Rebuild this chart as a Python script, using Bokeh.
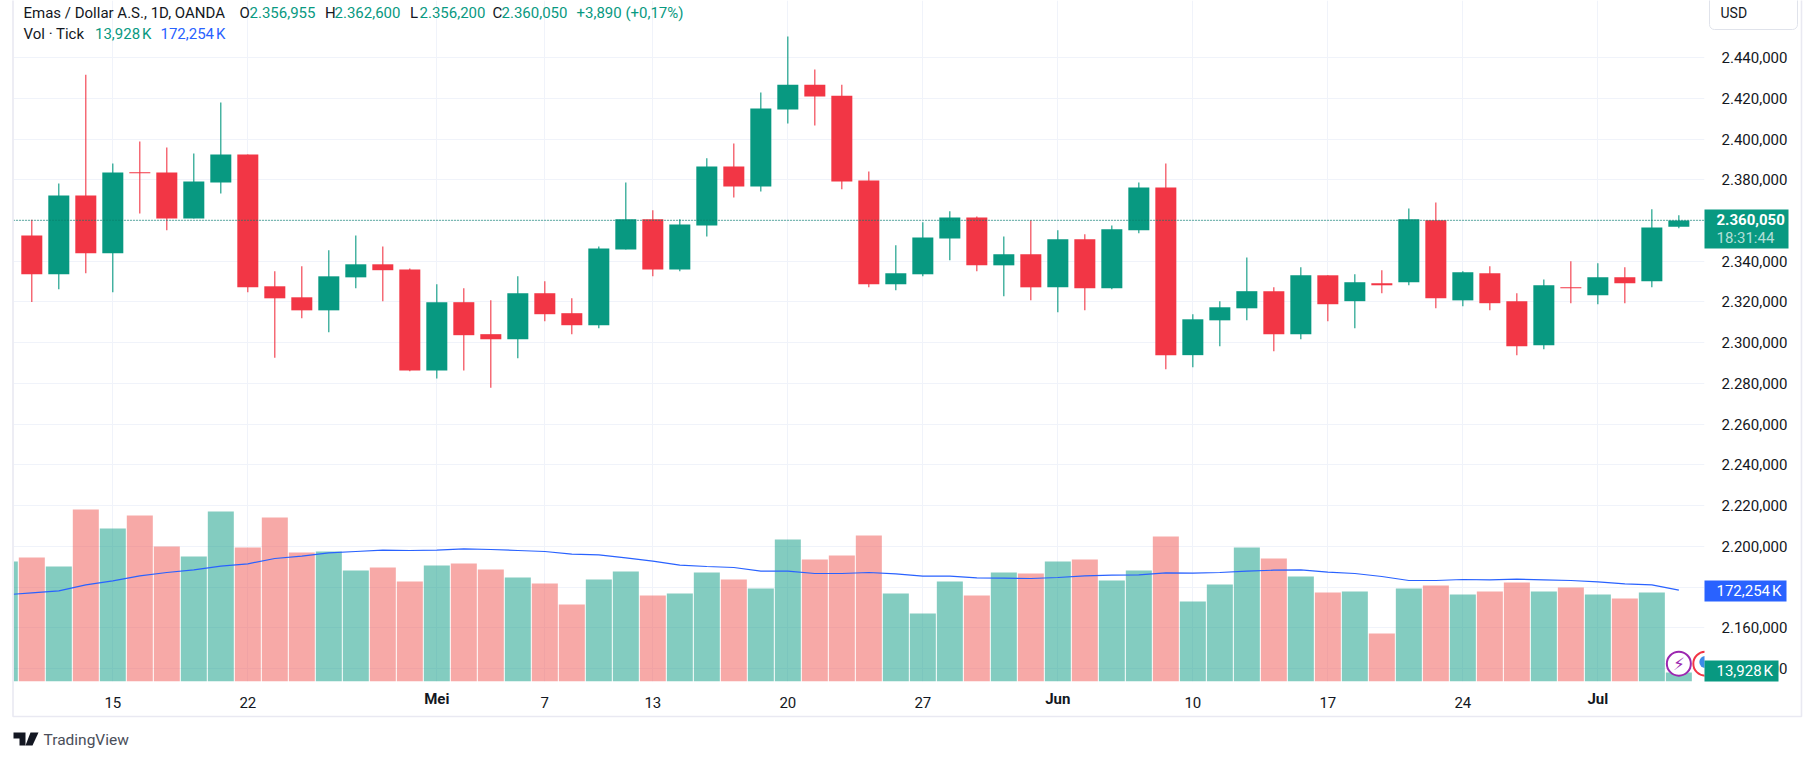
from bokeh.plotting import figure
from bokeh.embed import file_html
from bokeh.resources import INLINE
from bokeh.layouts import column
from bokeh.models import (Range1d, FixedTicker, Span, Label, BoxAnnotation,
                          PolyAnnotation, ColumnDataSource)
from bokeh.core.properties import value

# Prices in thousands (USD, as labelled on the axis)
open_ = [2352.7,2333.6,2372.3,2343.9,2383.7,2383.6,2361.0,2378.7,2392.4,2327.7,2322.3,2315.9,2332.1,2338.5,2336.0,2286.4,
         2319.9,2304.2,2301.7,2324.3,2314.5,2308.6,2345.8,2360.6,2336.0,2357.6,2386.5,2376.7,2414.5,2426.7,2421.3,2379.7,
         2328.7,2333.6,2351.2,2361.5,2338.0,2343.4,2327.2,2350.8,2326.7,2355.2,2376.2,2293.9,2311.0,2316.9,2325.3,2304.2,
         2333.1,2320.4,2329.2,2329.7,2360.1,2320.8,2334.1,2320.4,2298.8,2327.2,2323.3,2332.1,2330.2,2356.955]
high = [2360.4,2378.2,2431.6,2388.0,2398.8,2395.8,2392.9,2417.9,2392.4,2335.1,2337.5,2345.4,2352.7,2347.3,2336.5,2328.7,
        2326.7,2320.8,2332.6,2330.2,2321.8,2347.3,2378.7,2365.0,2360.6,2390.5,2397.8,2422.8,2450.3,2434.1,2426.7,2384.1,
        2347.8,2359.1,2364.5,2362.0,2352.2,2360.1,2355.2,2353.2,2357.6,2378.7,2388.0,2314.0,2320.4,2341.9,2327.2,2337.0,
        2333.1,2333.6,2335.6,2365.9,2368.9,2335.1,2337.5,2324.3,2331.1,2340.0,2339.0,2337.0,2365.5,2362.6]
low = [2320.0,2326.2,2334.1,2324.8,2363.5,2355.2,2361.0,2373.3,2324.8,2292.6,2312.0,2305.2,2326.7,2320.4,2286.0,2282.5,
       2286.4,2277.9,2292.4,2310.6,2304.2,2307.1,2345.8,2332.6,2335.1,2352.2,2371.3,2374.3,2407.6,2406.6,2375.3,2327.2,
       2325.8,2332.6,2340.5,2335.1,2322.8,2320.8,2315.0,2315.9,2326.2,2353.7,2287.0,2288.0,2298.3,2311.0,2295.8,2301.7,
       2310.6,2307.1,2324.3,2328.2,2316.9,2317.9,2315.9,2293.9,2296.8,2319.4,2318.9,2319.4,2327.2,2356.2]
close = [2333.6,2372.3,2343.9,2383.6,2383.2,2361.0,2379.2,2392.4,2327.2,2321.8,2315.9,2332.6,2338.5,2335.6,2286.4,2319.9,
         2303.7,2301.7,2324.3,2314.0,2308.6,2346.3,2360.6,2336.0,2358.1,2386.5,2376.7,2415.0,2426.7,2420.9,2379.2,2328.7,
         2334.1,2351.7,2361.5,2338.0,2343.4,2327.2,2350.8,2326.7,2355.7,2376.2,2293.9,2311.5,2317.4,2325.3,2304.2,2333.1,
         2318.9,2329.7,2328.2,2360.6,2321.8,2334.6,2319.4,2298.3,2328.2,2326.7,2332.1,2329.2,2356.6,2360.05]

# Tick volume in K; the first entry is the session cut off at the left edge
volume = [227494,235189,217873,327540,290984,315997,256353,237113,323692,254429,312148,244809,246733,210177,215949,189013,
          219797,223645,212101,196709,185165,144761,192861,208253,162077,165925,206329,192861,175545,269821,231341,239037,
          277517,165925,127445,189013,162077,206329,204405,227494,231341,190937,210177,275593,150533,183241,254429,233265,
          198633,167849,169773,88966,175545,181317,164001,169773,187089,169773,177469,164001,156305,167849,13928]
volume_ma = [163360,167208,171056,182600,190296,199916,206329,211460,218514,223003,233265,237754,244167,246733,249298,248657,
             249298,251863,250581,248657,246733,241602,240319,234547,228134,220438,217873,215949,208894,208894,204405,204405,
             206329,203764,199274,199274,196068,195426,194785,196709,199916,201198,201840,205688,205046,206329,208894,210818,
             211460,206970,204405,198633,190937,190937,192861,192220,193502,192220,190937,188372,184524,182600,172254]
prior_up = [True]

price_ticks = [2440,2420,2400,2380,2360,2340,2320,2300,2280,2260,2240,2220,2200,2180,2160,2140]
price_labels = ["2.440,000","2.420,000","2.400,000","2.380,000","","2.340,000","2.320,000","2.300,000","2.280,000",
                "2.260,000","2.240,000","2.220,000","2.200,000","","2.160,000","2.140,000"]
day_ticks = [3,8,15,19,23,28,33,38,43,48,53,58]
day_labels = ["15","22","","7","13","20","27","","10","17","24",""]
month_ticks = [15,38,58]
month_labels = ["Mei","Jun","Jul"]
last_price = 2360.05

GREEN, RED, RED_V, BLUE, INK, GRID, FRAME = "#089981","#F23645","#EF5350","#2962FF","#131722","#F0F3FA","#E9E9F2"
FONT = "Roboto"

idx = list(range(len(close)))
up = [c >= o for o, c in zip(open_, close)]
src = ColumnDataSource(dict(x=idx, o=open_, h=high, l=low, c=close,
                            top=[max(a, b) for a, b in zip(open_, close)],
                            bot=[min(a, b) for a, b in zip(open_, close)],
                            col=[GREEN if u else RED for u in up]))
vx = [-1] + idx
vsrc = ColumnDataSource(dict(x=vx, v=volume, ma=volume_ma,
                             col=[GREEN if u else RED_V for u in prior_up + up]))

p = figure(width=1814, height=760, output_backend="svg", toolbar_location=None, tools="",
           x_range=Range1d(-0.678, 61.95), y_range=Range1d(2133.7, 2468.0),
           min_border_left=13, min_border_right=110, min_border_top=0, min_border_bottom=79,
           x_axis_location="below", y_axis_location="right", background_fill_color="white",
           border_fill_color="white", outline_line_color=None, frame_align=False)
p.extra_y_ranges = {"vol": Range1d(-3386, 1306858)}

for ax in (p.xaxis[0], p.yaxis[0]):
    ax.axis_line_color = None
    ax.major_tick_line_color = None
    ax.minor_tick_line_color = None
    ax.major_label_text_font = FONT
    ax.major_label_text_font_size = "15px"
    ax.major_label_text_color = INK
p.xaxis[0].ticker = FixedTicker(ticks=day_ticks)
p.xaxis[0].major_label_overrides = dict(zip(day_ticks, day_labels))
p.xaxis[0].major_label_standoff = 9
p.yaxis[0].ticker = FixedTicker(ticks=price_ticks)
p.yaxis[0].major_label_overrides = dict(zip(price_ticks, price_labels))
p.yaxis[0].major_label_standoff = 11
p.xgrid.grid_line_color = GRID
p.ygrid.grid_line_color = GRID

p.vbar(x="x", top="v", bottom=-3386, width=0.963, color="col", alpha=0.5, line_width=0,
       source=vsrc, y_range_name="vol")
p.line(x="x", y="ma", color=BLUE, line_width=1.2, source=vsrc, y_range_name="vol")
p.add_layout(Span(location=last_price, dimension="width", line_color="#067F6B", line_width=1.4, line_dash="1 2"))
p.segment(x0="x", x1="x", y0="l", y1="h", color="col", line_width=1.1, source=src)
p.vbar(x="x", top="top", bottom="bot", width=0.778, color="col", line_width=0, source=src)

# event badges on the last session
badge_v = volume[-1] + 17000
p.scatter([idx[-1]], [badge_v], size=24, marker="circle", fill_color="white", line_color="#9C27B0",
          line_width=2, y_range_name="vol")
p.text([idx[-1]], [badge_v], text=["\u26A1"], text_color="#9C27B0", text_align="center", text_baseline="middle",
       text_font_size="17px", text_font=value("DejaVu Sans"), y_range_name="vol")
p.scatter([idx[-1] + 0.98], [badge_v], size=24, marker="circle", fill_color="white", line_color=RED,
          line_width=2, y_range_name="vol")
p.scatter([idx[-1] + 0.98], [badge_v + 3000], size=12, marker="circle", fill_color="#3D8BE8", line_width=0,
          y_range_name="vol")

# Transparent sheet over the whole page: everything that sits outside the plot frame.
q = figure(width=1814, height=760, output_backend="svg", toolbar_location=None, tools="",
           x_range=Range1d(0, 1814), y_range=Range1d(760, 0), x_axis_type=None, y_axis_type=None,
           min_border=0, background_fill_alpha=0, border_fill_alpha=0, outline_line_color=None, frame_align=False)
q.xgrid.visible = False
q.ygrid.visible = False
q.styles = {"position": "absolute", "left": "0", "top": "0", "pointer-events": "none"}
q.extra_x_ranges = {"idx": Range1d((0 - 31.3) / 27, (1814 - 31.3) / 27)}


def txt(x, y, s, color=INK, size="15px", weight="normal", align="left", alpha=1.0):
    q.add_layout(Label(x=x, y=y, text=s, text_color=color, text_font=FONT,
                       text_font_size=size, text_font_style=weight, text_align=align, text_baseline="middle",
                       text_alpha=alpha))


def box(l, t, r, b, fill=None, line=None, radius=0, lw=1):
    q.add_layout(BoxAnnotation(left=l, right=r, top=t, bottom=b, fill_color=fill, fill_alpha=1 if fill else 0,
                               line_color=line, line_width=lw, line_alpha=1 if line else 0, border_radius=radius))


# panel frame
box(12.5, -6, 1801, 716, None, FRAME, lw=1.6)
box(1709, -6, 1797, 29, "white", "#E0E3EB", radius=5)
txt(1720, 12, "USD", size="14px")

# legend
txt(23, 12, "Emas / Dollar A.S., 1D, OANDA")
for x, s in ((239, "O"), (324.5, "H"), (409.5, "L"), (492, "C")):
    txt(x, 12, s)
for x, s in ((249, "2.356,955"), (334, "2.362,600"), (419, "2.356,200"), (501, "2.360,050"), (576, "+3,890 (+0,17%)")):
    txt(x, 12, s, color=GREEN)
txt(23, 33, "Vol \u00b7 Tick")
txt(94.5, 33, "13,928\u202fK", color=GREEN)
txt(160, 33, "172,254\u202fK", color=BLUE)

# month labels, bolder than the day numbers of the axis
q.text(month_ticks, [698] * len(month_ticks), text=month_labels, text_color=INK, text_font=value(FONT),
       text_font_size="15px", text_font_style="bold", text_align="center", text_baseline="middle",
       x_range_name="idx")

# price tags
box(1704, 209, 1788, 248, GREEN)
txt(1716, 219, "2.360,050", color="white", weight="bold")
txt(1716, 237, "18:31:44", color="white", alpha=0.7)
box(1704, 580, 1786, 601, BLUE)
txt(1716, 590, "172,254\u202fK", color="white")
box(1704, 660, 1778, 681, GREEN)
txt(1716, 670, "13,928\u202fK", color="white")

# wordmark
q.add_layout(PolyAnnotation(xs=[13, 25, 25, 19, 19, 13], ys=[732, 732, 745, 745, 738, 738],
                            fill_color=INK, fill_alpha=1, line_alpha=0))
q.add_layout(PolyAnnotation(xs=[30, 38, 32, 25], ys=[732, 732, 745, 745],
                            fill_color=INK, fill_alpha=1, line_alpha=0))
txt(43, 739, "TradingView", color="#4A4E59", size="15.5px")

page = column(p, q)
open("out.html", "w").write(file_html(page, INLINE))
